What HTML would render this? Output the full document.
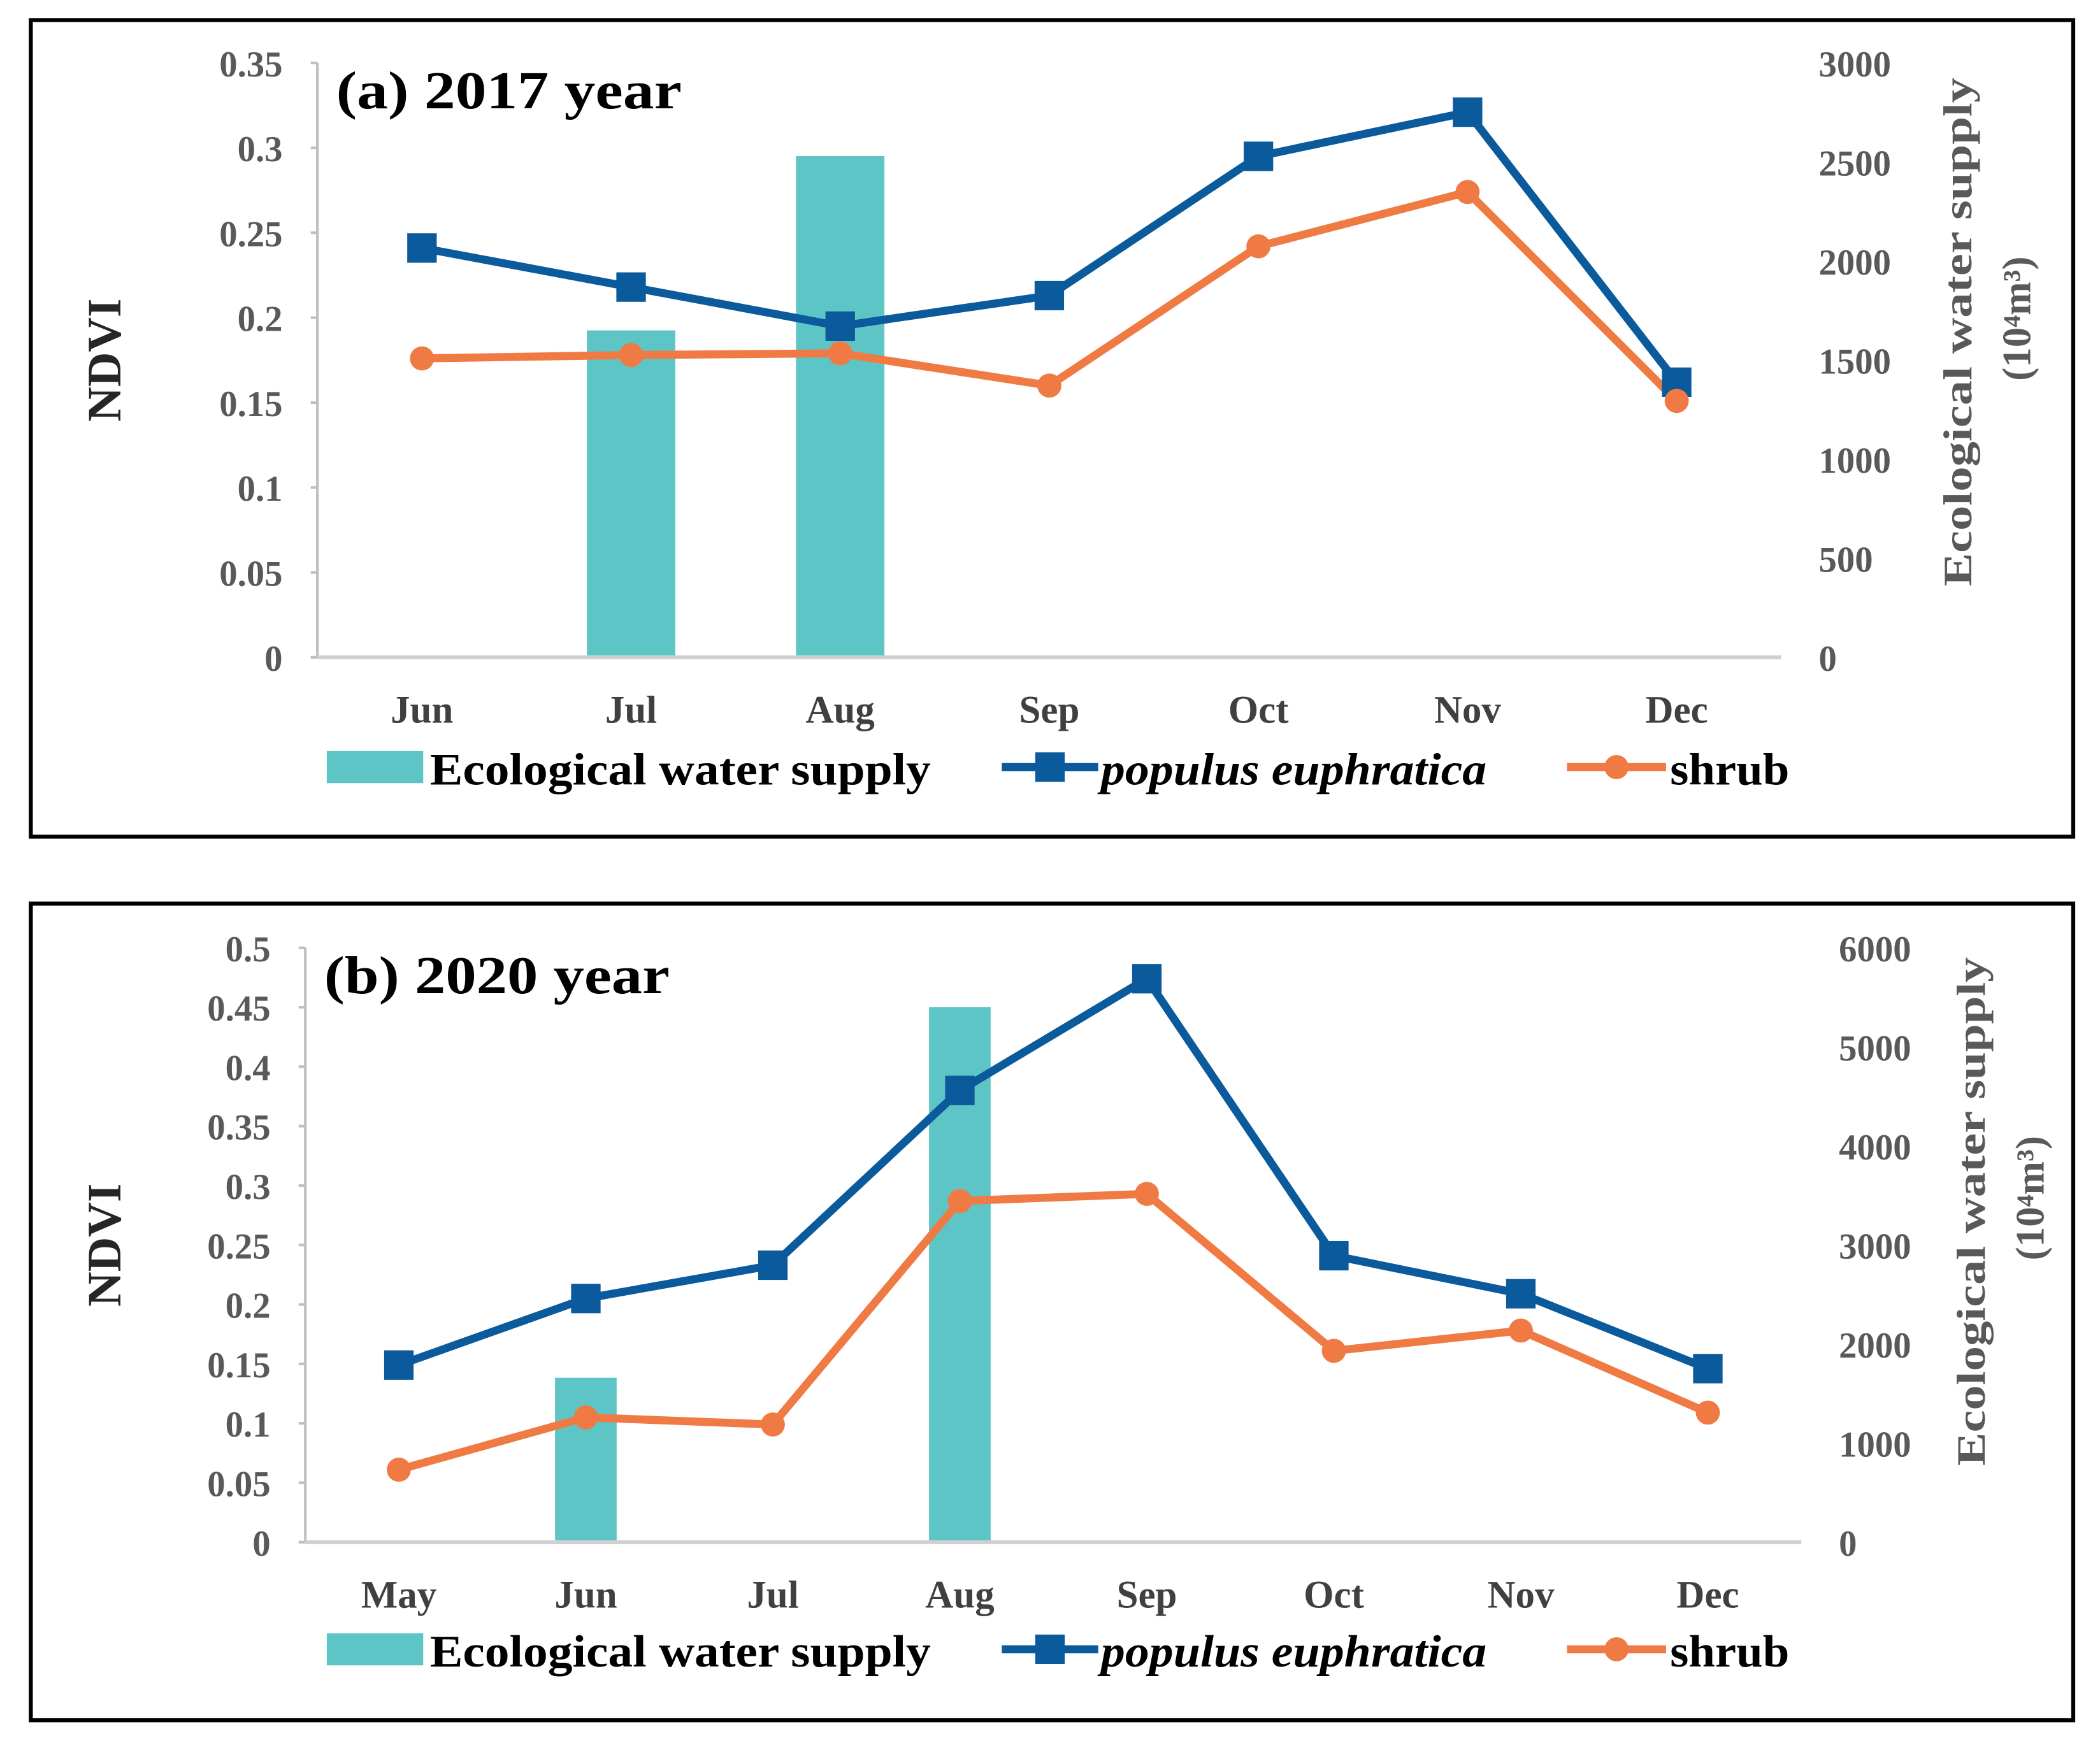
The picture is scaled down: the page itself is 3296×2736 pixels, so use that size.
<!DOCTYPE html>
<html><head><meta charset="utf-8"><style>
html,body{margin:0;padding:0;background:#fff;}
svg{display:block;}
text{font-family:"Liberation Serif",serif;font-weight:bold;}
</style></head><body>
<svg id="chart" width="3296" height="2736" viewBox="0 0 1568 1302" preserveAspectRatio="none" xmlns="http://www.w3.org/2000/svg">
<rect x="0" y="0" width="1568" height="1302" fill="#fff"/>
</svg>
<script>
// Panel (a) 2017
const monthsA = ["Jun","Jul","Aug","Sep","Oct","Nov","Dec"];
const waterA = [0,1650,2530,0,0,0,0];
const populusA = [0.241,0.218,0.195,0.213,0.295,0.321,0.162];
const shrubA = [0.176,0.178,0.179,0.160,0.242,0.274,0.151];
const leftTicksA = ["0","0.05","0.1","0.15","0.2","0.25","0.3","0.35"];
const rightTicksA = ["0","500","1000","1500","2000","2500","3000"];
// Panel (b) 2020
const monthsB = ["May","Jun","Jul","Aug","Sep","Oct","Nov","Dec"];
const waterB = [0,1660,0,5400,0,0,0,0];
const populusB = [0.149,0.205,0.233,0.380,0.474,0.241,0.209,0.146];
const shrubB = [0.061,0.105,0.099,0.287,0.293,0.161,0.178,0.109];
const leftTicksB = ["0","0.05","0.1","0.15","0.2","0.25","0.3","0.35","0.4","0.45","0.5"];
const rightTicksB = ["0","1000","2000","3000","4000","5000","6000"];

const svg = document.getElementById('chart');
const NS = "http://www.w3.org/2000/svg";
function mk(tag, attrs, parent){
  const e = document.createElementNS(NS, tag);
  for (const k in attrs) e.setAttribute(k, attrs[k]);
  (parent||svg).appendChild(e);
  return e;
}
function txt(s, attrs, parent){ const e = mk('text', attrs, parent); e.textContent = s; return e; }

function panel(cfg){
  const g = mk('g', {});
  
  
  const fr = mk('rect', {x:cfg.fx, y:cfg.fy, width:1525, height:610, fill:'none', stroke:'#000', 'stroke-width':3}, g);
  
  
  const n = cfg.months.length;
  const bw = (cfg.x1 - cfg.x0) / n;
  const xs = i => cfg.x0 + bw*(i+0.5);
  const yL = v => cfg.yb - (v/cfg.lmax)*(cfg.yb-cfg.yt);
  const yR = v => cfg.yb - (v/cfg.rmax)*(cfg.yb-cfg.yt);
  cfg.lt.forEach((t,i)=>{
    const v = parseFloat(t);
    const y = yL(v);
    const l = txt(t, {x:cfg.x0-26, y:y+10, 'text-anchor':'end', 'font-size':27, fill:'#595959'}, g);
    
    
    mk('line', {x1:cfg.x0-5, x2:cfg.x0, y1:y, y2:y, stroke:'#bfbfbf', 'stroke-width':2}, g);
  });
  cfg.rt.forEach(t=>{
    const y = yR(parseFloat(t));
    const l = txt(t, {x:cfg.x1+28, y:y+10, 'text-anchor':'start', 'font-size':27, fill:'#595959'}, g);
    
    
  });
  const ax = mk('line', {x1:cfg.x0, x2:cfg.x0, y1:cfg.yt, y2:cfg.yb, stroke:'#bfbfbf', 'stroke-width':2}, g);
  
  
  cfg.water.forEach((v,i)=>{
    if (v<=0) return;
    const b = mk('rect', {x:xs(i)-cfg.barW/2, y:yR(v), width:cfg.barW, height:cfg.yb-yR(v), fill:'#5ec5c6'}, g);
    
    
  });
  const xa = mk('line', {x1:cfg.x0, x2:cfg.x1, y1:cfg.yb, y2:cfg.yb, stroke:'#d0d0d0', 'stroke-width':3}, g);
  
  
  cfg.months.forEach((m,i)=>{
    const l = txt(m, {x:xs(i), y:cfg.yb+49, 'text-anchor':'middle', 'font-size':29, fill:'#404040'}, g);
    
    
  });
  const pp = cfg.pop.map((v,i)=>xs(i)+','+yL(v)).join(' ');
  const pl = mk('polyline', {points:pp, fill:'none', stroke:'#0a5a9c', 'stroke-width':6, 'stroke-linejoin':'round'}, g);
  
  
  const sp = cfg.shr.map((v,i)=>xs(i)+','+yL(v)).join(' ');
  const sl = mk('polyline', {points:sp, fill:'none', stroke:'#f07a44', 'stroke-width':6, 'stroke-linejoin':'round'}, g);
  
  
  cfg.pop.forEach((v,i)=>{
    const r = mk('rect', {x:xs(i)-11, y:yL(v)-11, width:22, height:22, fill:'#0a5a9c'}, g);
    
    
  });
  cfg.shr.forEach((v,i)=>{
    const c = mk('circle', {cx:xs(i), cy:yL(v), r:9, fill:'#f07a44'}, g);
    
    
  });
  const t = txt(cfg.title, {x:cfg.x0+14, y:cfg.yt+34, 'font-size':40, fill:'#000', textLength:258, lengthAdjust:'spacingAndGlyphs'}, g);
  
  
  const cyL = (cfg.yt+cfg.yb)/2;
  const yt = txt('NDVI', {x:0, y:0, 'text-anchor':'middle', 'font-size':36, fill:'#262626', transform:`translate(90,${cyL}) rotate(-90)`}, g);
  
  
  const r1 = txt('Ecological water supply', {x:0, y:0, 'text-anchor':'middle', 'font-size':30, fill:'#595959', textLength:cfg.rtLen, lengthAdjust:'spacingAndGlyphs', transform:`translate(${cfg.rtx},${cfg.rty}) rotate(-90)`}, g);
  
  
  const r2 = mk('text', {x:0, y:0, 'text-anchor':'middle', 'font-size':30, fill:'#595959', transform:`translate(${cfg.rtx+44},${cfg.rty-10}) rotate(-90)`}, g);
  
  
  r2.textContent = '(10⁴m³)';
  const ly = cfg.ly;
  const lg = mk('g', {}, g);
  
  
  mk('rect', {x:244, y:ly-15, width:72, height:24, fill:'#5ec5c6'}, lg);
  const l1 = txt('Ecological water supply', {x:321, y:ly+10, 'font-size':34, fill:'#000', textLength:374, lengthAdjust:'spacingAndGlyphs'}, lg);
  
  
  mk('line', {x1:748, x2:820, y1:ly-3, y2:ly-3, stroke:'#0a5a9c', 'stroke-width':6}, lg);
  mk('rect', {x:773, y:ly-14, width:22, height:22, fill:'#0a5a9c'}, lg);
  const l2 = txt('populus euphratica', {x:822, y:ly+10, 'font-size':34, 'font-style':'italic', fill:'#000', textLength:288, lengthAdjust:'spacingAndGlyphs'}, lg);
  
  
  mk('line', {x1:1170, x2:1244, y1:ly-3, y2:ly-3, stroke:'#f07a44', 'stroke-width':6}, lg);
  mk('circle', {cx:1207, cy:ly-3, r:9, fill:'#f07a44'}, lg);
  const l3 = txt('shrub', {x:1247, y:ly+10, 'font-size':34, fill:'#000', textLength:89, lengthAdjust:'spacingAndGlyphs'}, lg);
  
  
}

panel({name:'panel-a-2017', fx:23, fy:15, x0:237, x1:1330, yt:47, yb:491, lmax:0.35, rmax:3000,
  months:monthsA, water:waterA, pop:populusA, shr:shrubA, lt:leftTicksA, rt:rightTicksA, barW:66,
  title:'(a) 2017 year', rtx:1472, rty:248, rtLen:380, ly:576});
panel({name:'panel-b-2020', fx:23, fy:675, x0:228, x1:1345, yt:708, yb:1152, lmax:0.5, rmax:6000,
  months:monthsB, water:waterB, pop:populusB, shr:shrubB, lt:leftTicksB, rt:rightTicksB, barW:46,
  title:'(b) 2020 year', rtx:1482, rty:905, rtLen:380, ly:1235});
</script>
</body></html>
